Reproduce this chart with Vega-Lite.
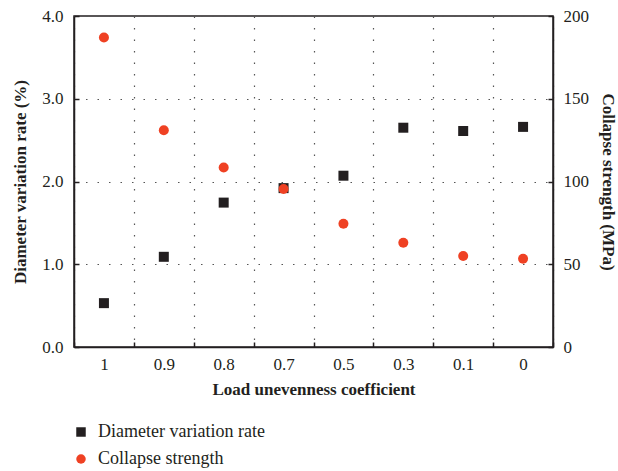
{
  "$schema": "https://vega.github.io/schema/vega-lite/v6.json",
  "width": 479,
  "height": 331,
  "autosize": {"type": "none"},
  "padding": {"left": 74, "top": 16, "right": 65, "bottom": 124},
  "config": {
    "font": "Liberation Serif",
    "view": {"stroke": "#231f20", "strokeWidth": 1.5},
    "axis": {
      "labelFont": "Liberation Serif",
      "titleFont": "Liberation Serif",
      "labelFontSize": 17,
      "titleFontSize": 17,
      "titleFontWeight": "bold",
      "labelColor": "#231f20",
      "titleColor": "#231f20",
      "domainColor": "#231f20",
      "domainWidth": 1.5,
      "tickColor": "#231f20",
      "tickWidth": 1.5,
      "gridColor": "#555555",
      "gridDash": [1.5, 10],
      "gridWidth": 1.2
    },
    "legend": {"labelFont": "Liberation Serif", "labelFontSize": 18, "labelColor": "#231f20", "labelLimit": 400}
  },
  "data": {
    "values": [
      {"coef": "1", "series": "Diameter variation rate", "value": 0.53},
      {"coef": "0.9", "series": "Diameter variation rate", "value": 1.09},
      {"coef": "0.8", "series": "Diameter variation rate", "value": 1.745},
      {"coef": "0.7", "series": "Diameter variation rate", "value": 1.92},
      {"coef": "0.5", "series": "Diameter variation rate", "value": 2.07},
      {"coef": "0.3", "series": "Diameter variation rate", "value": 2.65},
      {"coef": "0.1", "series": "Diameter variation rate", "value": 2.61},
      {"coef": "0", "series": "Diameter variation rate", "value": 2.66},
      {"coef": "1", "series": "Collapse strength", "value": 187},
      {"coef": "0.9", "series": "Collapse strength", "value": 131},
      {"coef": "0.8", "series": "Collapse strength", "value": 108.5},
      {"coef": "0.7", "series": "Collapse strength", "value": 95.5},
      {"coef": "0.5", "series": "Collapse strength", "value": 74.5},
      {"coef": "0.3", "series": "Collapse strength", "value": 63},
      {"coef": "0.1", "series": "Collapse strength", "value": 55},
      {"coef": "0", "series": "Collapse strength", "value": 53.3}
    ]
  },
  "encoding": {
    "x": {
      "field": "coef",
      "type": "ordinal",
      "sort": ["1", "0.9", "0.8", "0.7", "0.5", "0.3", "0.1", "0"],
      "scale": {"type": "band", "paddingInner": 0, "paddingOuter": 0},
      "axis": {
        "title": "Load unevenness coefficient",
        "labelAngle": 0,
        "tickBand": "extent",
        "grid": true,
        "tickSize": -5,
        "labelPadding": 14,
        "titlePadding": 9
      }
    },
    "color": {
      "field": "series",
      "type": "nominal",
      "scale": {"domain": ["Diameter variation rate", "Collapse strength"], "range": ["#231f20", "#ef4123"]},
      "legend": {
        "title": null,
        "orient": "none",
        "legendX": -2,
        "legendY": 407,
        "symbolSize": 90,
        "rowPadding": 9,
        "labelOffset": 8,
        "labelLimit": 400,
        "padding": 0
      }
    },
    "shape": {
      "field": "series",
      "type": "nominal",
      "scale": {"domain": ["Diameter variation rate", "Collapse strength"], "range": ["square", "circle"]},
      "legend": {
        "title": null,
        "orient": "none",
        "legendX": -2,
        "legendY": 407,
        "symbolSize": 90,
        "rowPadding": 9,
        "labelOffset": 8,
        "labelLimit": 400,
        "padding": 0
      }
    }
  },
  "layer": [
    {
      "transform": [{"filter": "datum.series === 'Diameter variation rate'"}],
      "mark": {"type": "point", "filled": true, "opacity": 1, "size": 100},
      "encoding": {
        "y": {
          "field": "value",
          "type": "quantitative",
          "scale": {"domain": [0, 4], "nice": false},
          "axis": {
            "title": "Diameter variation rate (%)",
            "values": [0, 1, 2, 3, 4],
            "format": ".1f",
            "grid": true,
            "tickSize": -5,
            "labelPadding": 16,
            "titlePadding": 12
          }
        }
      }
    },
    {
      "transform": [{"filter": "datum.series === 'Collapse strength'"}],
      "mark": {"type": "point", "filled": true, "opacity": 1, "size": 100},
      "encoding": {
        "y": {
          "field": "value",
          "type": "quantitative",
          "scale": {"domain": [0, 200], "nice": false},
          "axis": {
            "orient": "right",
            "title": "Collapse strength (MPa)",
            "values": [0, 50, 100, 150, 200],
            "grid": false,
            "tickSize": -5,
            "labelPadding": 15,
            "titlePadding": 10
          }
        }
      }
    }
  ],
  "resolve": {"scale": {"y": "independent"}}
}
